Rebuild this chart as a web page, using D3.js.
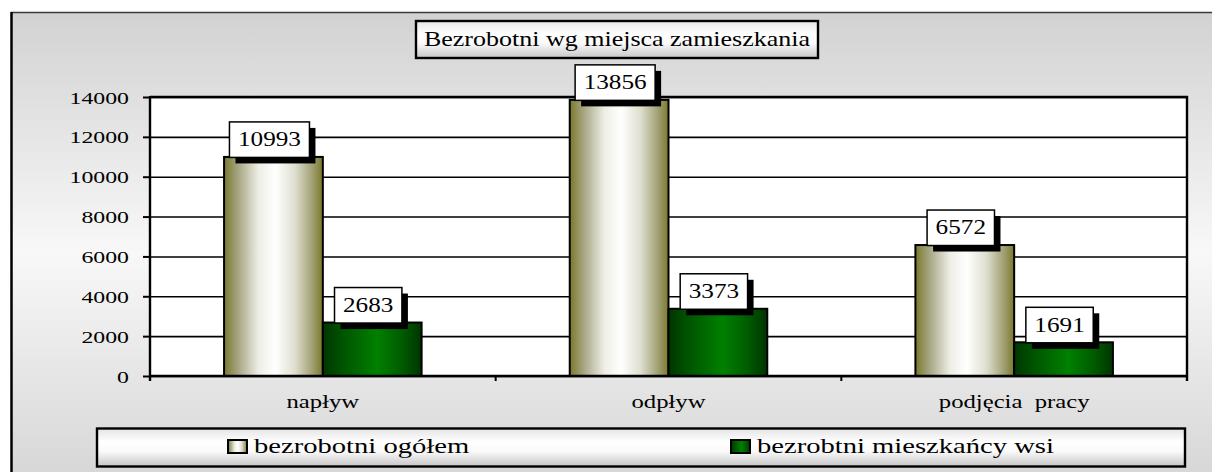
<!DOCTYPE html>
<html>
<head>
<meta charset="utf-8">
<script src="https://cdn.jsdelivr.net/npm/d3@7"></script>
<style>
  html, body { margin: 0; padding: 0; background: #ffffff; }
  svg { display: block; }
</style>
</head>
<body>
<svg id="chart" width="1212" height="472"></svg>
<script>
// ---- data ----
const chartTitle = "Bezrobotni wg miejsca zamieszkania";
const categories = ["napływ", "odpływ", "podjęcia  pracy"];
const seriesNames = ["bezrobotni ogółem", "bezrobtni mieszkańcy wsi"];
const ogolem = [10993, 13856, 6572];
const wsi = [2683, 3373, 1691];
const yTicks = [0, 2000, 4000, 6000, 8000, 10000, 12000, 14000];

// ---- layout ----
const FONT = '"Liberation Serif"';
const W = 1212, H = 472;
const plot = { left: 150, right: 1187, top: 97, bottom: 376 };
const svg = d3.select("#chart");
const defs = svg.append("defs");

function linGrad(id, horizontal, stops) {
  const g = defs.append("linearGradient").attr("id", id)
    .attr("x1", 0).attr("y1", 0)
    .attr("x2", horizontal ? 1 : 0).attr("y2", horizontal ? 0 : 1);
  stops.forEach(s => g.append("stop").attr("offset", s[0]).attr("stop-color", s[1]));
}
linGrad("bgGrad", false, [[0, "#d2d2d2"], [0.5, "#f8f8f8"], [1, "#d4d4d4"]]);
linGrad("boxGrad", false, [[0, "#e4e4e4"], [0.35, "#ffffff"], [0.6, "#fafafa"], [1, "#c6c6c6"]]);
linGrad("olive", true, [[0, "#7a792c"], [0.15, "#a9a887"], [0.35, "#eeeee6"], [0.52, "#ffffff"], [0.72, "#dedecf"], [0.9, "#9f9e70"], [1, "#7a792c"]]);
linGrad("green", true, [[0, "#003600"], [0.2, "#005400"], [0.55, "#008000"], [0.8, "#005c00"], [1, "#003400"]]);
const fills = ["url(#olive)", "url(#green)"];

// text helper: positioned and horizontally stretched with a transform
function styleText(sel, size) {
  sel.style("font-family", FONT).style("font-size", size + "px").attr("fill", "#000");
}
function place(sel, x, yy, sx) {
  sel.attr("x", 0).attr("y", 0).attr("dy", null).attr("transform", `translate(${x},${yy}) scale(${sx},1)`);
}

// background frame
svg.append("rect").attr("x", 11).attr("y", 12).attr("width", W + 10).attr("height", H + 10)
  .attr("fill", "url(#bgGrad)");
svg.append("line").attr("x1", 11).attr("x2", W).attr("y1", 12.5).attr("y2", 12.5)
  .attr("stroke", "#3a3a3a").attr("stroke-width", 1.6);
svg.append("line").attr("x1", 11.5).attr("x2", 11.5).attr("y1", 12).attr("y2", H)
  .attr("stroke", "#000").attr("stroke-width", 2.5);

// scales
const x0 = d3.scaleBand().domain(categories).range([plot.left, plot.right]).paddingInner(0).paddingOuter(0);
const x1 = d3.scaleBand().domain(seriesNames).range([0, x0.bandwidth()]).paddingInner(0).paddingOuter(0.75);
const y = d3.scaleLinear().domain([0, 14000]).range([plot.bottom, plot.top]);

// plot area
svg.append("rect").attr("x", plot.left).attr("y", plot.top)
  .attr("width", plot.right - plot.left).attr("height", plot.bottom - plot.top)
  .attr("fill", "#ffffff");

// gridlines
const grid = svg.append("g").attr("transform", `translate(${plot.left},0)`)
  .call(d3.axisLeft(y).tickValues(yTicks).tickSize(-(plot.right - plot.left)).tickFormat(""));
grid.select(".domain").remove();
grid.selectAll("line").attr("stroke", "#000").attr("stroke-width", 1.6);

// plot border (top & right)
svg.append("path")
  .attr("d", `M${plot.left},${plot.top}H${plot.right}V${plot.bottom + 5}`)
  .attr("fill", "none").attr("stroke", "#000").attr("stroke-width", 2.4);

// bars
const seriesData = [ogolem, wsi];
const barG = svg.append("g");
seriesNames.forEach((s, si) => {
  barG.selectAll(null).data(categories).enter().append("rect")
    .attr("x", c => x0(c) + x1(s))
    .attr("y", (c, i) => y(seriesData[si][i]))
    .attr("width", x1.bandwidth())
    .attr("height", (c, i) => y(0) - y(seriesData[si][i]))
    .attr("fill", fills[si])
    .attr("stroke", "#000").attr("stroke-width", 2);
});

// left axis
const yAxis = svg.append("g").attr("transform", `translate(${plot.left},0)`)
  .call(d3.axisLeft(y).tickValues(yTicks).tickSize(7).tickFormat(d3.format("d")));
yAxis.attr("font-family", null).attr("font-size", null);
yAxis.select(".domain").remove();
yAxis.selectAll(".tick line").attr("stroke", "#000").attr("stroke-width", 2);
yAxis.selectAll(".tick text").call(styleText, 17).call(place, -21, 6, 1.4);
svg.append("line").attr("x1", plot.left).attr("x2", plot.left)
  .attr("y1", plot.top - 1).attr("y2", plot.bottom + 5)
  .attr("stroke", "#000").attr("stroke-width", 2.4);

// bottom axis
const xAxis = svg.append("g").attr("transform", `translate(0,${plot.bottom})`)
  .call(d3.axisBottom(x0).tickSize(0));
xAxis.attr("font-family", null).attr("font-size", null);
xAxis.select(".domain").remove();
xAxis.selectAll(".tick text").call(styleText, 19).style("white-space", "pre").call(place, 0, 32, 1.3);
svg.append("line").attr("x1", plot.left).attr("x2", plot.right)
  .attr("y1", plot.bottom).attr("y2", plot.bottom)
  .attr("stroke", "#000").attr("stroke-width", 2.4);
const bounds = categories.map(c => x0(c)).concat([x0(categories[categories.length - 1]) + x0.bandwidth()]);
svg.selectAll(null).data(bounds).enter().append("line")
  .attr("x1", d => d).attr("x2", d => d)
  .attr("y1", plot.bottom).attr("y2", plot.bottom + 5)
  .attr("stroke", "#000").attr("stroke-width", 2);

// data labels
const LFS = 20, LSX = 1.26;
const labG = svg.append("g");
seriesNames.forEach((s, si) => {
  categories.forEach((c, i) => {
    const v = seriesData[si][i];
    const cx = x0(c) + x1(s) + x1.bandwidth() / 2;
    const tw = String(v).length * 0.5 * LFS * LSX;   // serif digits are 0.5em wide
    const bw = tw + 17, bh = 35.5, sh = 6;
    const bx = cx - (bw + sh) / 2 - 1;
    const by = y(v) - bh + 0.5;
    const g = labG.append("g");
    g.append("rect").attr("x", bx + sh).attr("y", by + sh).attr("width", bw).attr("height", bh).attr("fill", "#000");
    g.append("rect").attr("x", bx).attr("y", by).attr("width", bw).attr("height", bh)
      .attr("fill", "#fff").attr("stroke", "#000").attr("stroke-width", 1.5);
    g.append("text").text(v).attr("text-anchor", "middle").call(styleText, LFS)
      .call(place, bx + bw / 2, by + bh / 2 + 6.5, LSX);
  });
});

// title
svg.append("rect").attr("x", 416).attr("y", 21).attr("width", 402).attr("height", 37)
  .attr("fill", "url(#boxGrad)").attr("stroke", "#000").attr("stroke-width", 2.4);
svg.append("text").attr("text-anchor", "middle")
  .text(chartTitle).call(styleText, 20).call(place, 617, 45.5, 1.3);

// legend
svg.append("rect").attr("x", 97).attr("y", 428.5).attr("width", 1088).attr("height", 38)
  .attr("fill", "url(#boxGrad)").attr("stroke", "#000").attr("stroke-width", 2.4);
const legX = [228, 731];
seriesNames.forEach((s, si) => {
  svg.append("rect").attr("x", legX[si]).attr("y", 440).attr("width", 19).attr("height", 13)
    .attr("fill", fills[si]).attr("stroke", "#000").attr("stroke-width", 2);
  svg.append("text").text(s).call(styleText, 22).call(place, legX[si] + 26, 453, 1.3);
});
</script>
</body>
</html>
